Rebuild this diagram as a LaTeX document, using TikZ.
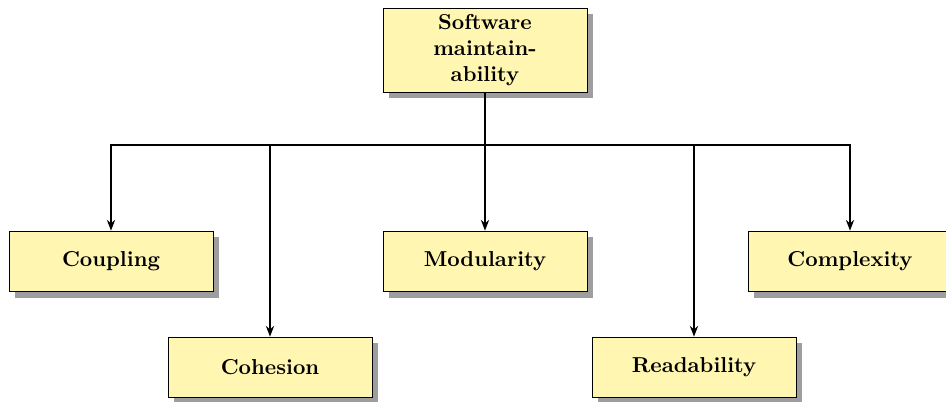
\documentclass[tikz,border=0pt]{standalone}
\usepackage{amsmath,amssymb}
\usepackage{tikz}
\usetikzlibrary{arrows.meta,shadows}
\definecolor{boxfill}{RGB}{255,246,178}
\tikzset{
    box/.style={draw, thin, fill=boxfill, font=\bfseries, align=center,
        text width=2.9cm, minimum width=3.32cm, minimum height=0.99cm, inner sep=2pt,
        drop shadow={shadow xshift=0.1cm, shadow yshift=-0.1cm, fill=black!38, opacity=1}},
    link/.style={thick, -{Stealth[length=5pt,width=3.8pt]}}
}

\begin{document}
\begin{tikzpicture}[x=0.01628cm, y=-0.01628cm]
            \useasboundingbox (0, 0) rectangle (946, 401);
            % top of the tree
            \node[box, text width=2.3cm, minimum height=1.37cm] (soft) at (485, 50) {Software maintainability};
            % first row
            \node[box] (coup) at (111, 261.5) {Coupling};
            \node[box] (modu) at (485, 261.5) {Modularity};
            \node[box] (comp) at (850, 261.5) {Complexity};
            % second row
            \node[box] (cohe) at (270, 367.5) {Cohesion};
            \node[box] (read) at (694, 367.5) {Readability};
            % bus under the root
            \coordinate (bus) at (485, 145);
            \draw[thick] (soft) -- (bus);
            \draw[link] (bus) -| (coup);
            \draw[link] (bus) -| (cohe);
            \draw[link] (bus) -- (modu);
            \draw[link] (bus) -| (read);
            \draw[link] (bus) -| (comp);
        \end{tikzpicture}
\end{document}
